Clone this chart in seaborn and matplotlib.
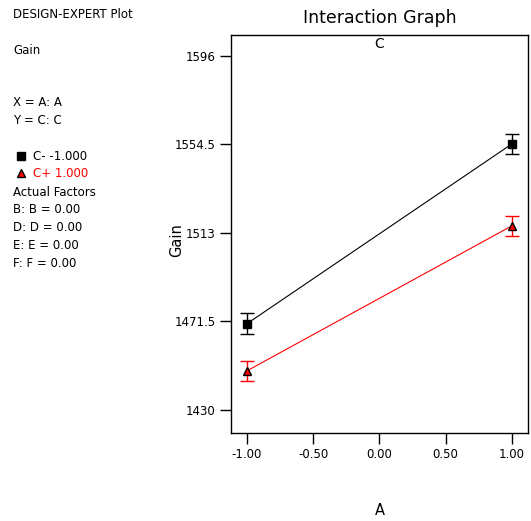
import matplotlib
matplotlib.use('Agg')
import matplotlib.pyplot as plt
from matplotlib.lines import Line2D
import seaborn as sns
import pandas as pd

# values
a_levels = [-1.0, 1.0]
gain_c_minus = [1470.4, 1554.7]
gain_c_plus = [1448.3, 1516.3]
err_c_minus = [4.8, 4.8]
err_c_plus = [4.8, 4.8]
series_labels = ['C- -1.000', 'C+ 1.000']
y_ticks = [1430, 1471.5, 1513, 1554.5, 1596]
y_tick_labels = ['1430', '1471.5', '1513', '1554.5', '1596']
x_ticks = [-1.0, -0.5, 0.0, 0.5, 1.0]
x_tick_labels = ['-1.00', '-0.50', '0.00', '0.50', '1.00']
info_lines = ['Actual Factors', 'B: B = 0.00', 'D: D = 0.00', 'E: E = 0.00', 'F: F = 0.00']

sns.set_style('white')
plt.rcParams['font.family'] = ['DejaVu Sans']
plt.rcParams['text.color'] = 'black'
plt.rcParams['axes.labelcolor'] = 'black'

df = pd.DataFrame({
    'A': a_levels * 2,
    'Gain': gain_c_minus + gain_c_plus,
    'C': [series_labels[0]] * 2 + [series_labels[1]] * 2,
})

colors = {series_labels[0]: 'black', series_labels[1]: 'red'}

fig = plt.figure(figsize=(5.31, 5.21), dpi=100)
ax = fig.add_axes([0.435, 0.169, 0.559, 0.764])

sns.lineplot(data=df, x='A', y='Gain', hue='C', palette=colors, lw=0.8,
             legend=False, ax=ax)
ax.errorbar(a_levels, gain_c_minus, yerr=err_c_minus, fmt='s', color='black',
            ms=6, capsize=5, elinewidth=1, capthick=1)
ax.errorbar(a_levels, gain_c_plus, yerr=err_c_plus, fmt='^', color='red',
            mfc='red', mec='black', ms=6, capsize=5, elinewidth=1, capthick=1)

ax.set_xlim(-1.12, 1.12)
ax.set_ylim(1419.2, 1605.8)
ax.set_xticks(x_ticks)
ax.set_xticklabels(x_tick_labels)
ax.set_yticks(y_ticks)
ax.set_yticklabels(y_tick_labels)
ax.tick_params(axis='both', direction='out', length=8, width=1, pad=3,
               labelsize=8.5, colors='black', left=True, bottom=True)
for sp in ax.spines.values():
    sp.set_color('black')
    sp.set_linewidth(1)

ax.set_xlabel('A', fontsize=10.5)
ax.set_ylabel('Gain', fontsize=10.5)
ax.xaxis.set_label_coords(0.502, -0.176)
ax.yaxis.set_label_coords(-0.158, 0.485)
ax.text(0.5, 0.977, 'C', transform=ax.transAxes, ha='center', va='center',
        fontsize=10)

fig.text(0.716, 1 - 18 / 521, 'Interaction Graph', ha='center', va='center',
         fontsize=12.5)

# left info panel
fs = 8.5
fig.text(13 / 531, 1 - 15 / 521, 'DESIGN-EXPERT Plot', va='center', fontsize=fs)
fig.text(13 / 531, 1 - 50 / 521, 'Gain', va='center', fontsize=fs)
fig.text(13 / 531, 1 - 103 / 521, 'X = A: A', va='center', fontsize=fs)
fig.text(13 / 531, 1 - 121 / 521, 'Y = C: C', va='center', fontsize=fs)

fig.add_artist(Line2D([21 / 531], [1 - 156 / 521], marker='s', color='black',
                      ms=6, ls='none', transform=fig.transFigure))
fig.text(33 / 531, 1 - 157 / 521, series_labels[0], va='center', fontsize=fs,
         color='black')
fig.add_artist(Line2D([21 / 531], [1 - 173 / 521], marker='^', mfc='red',
                      mec='black', ms=6, ls='none', transform=fig.transFigure))
fig.text(33 / 531, 1 - 174 / 521, series_labels[1], va='center', fontsize=fs,
         color='red')

for i, line in enumerate(info_lines):
    fig.text(13 / 531, 1 - (192 + 17.8 * i) / 521, line, va='center', fontsize=fs)

fig.savefig('out.png', dpi=100)
